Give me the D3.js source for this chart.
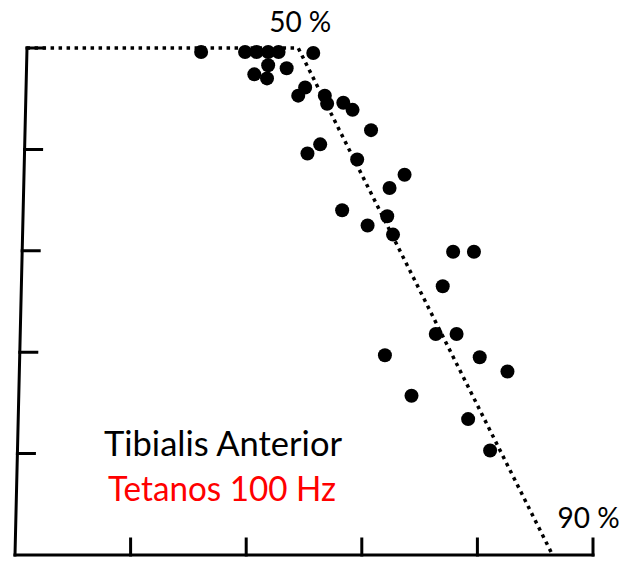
<!DOCTYPE html>
<html>
<head>
<meta charset="utf-8">
<script src="https://cdn.jsdelivr.net/npm/d3@7"></script>
<style>
  body { margin: 0; background: #fff; }
  text { font-family: Lato, "Open Sans", sans-serif; }
</style>
</head>
<body>
<div id="chart"></div>
<script>
// values, in tick units (both axes 0..5)
var xvals = [1.61, 1.99, 2.09, 2.19, 2.28, 2.19, 2.07, 2.18, 2.35, 2.58,
             2.45, 2.51, 2.68, 2.70, 2.84, 2.92, 3.08, 2.53, 2.64, 2.96,
             3.37, 3.24, 2.83, 3.22, 3.05, 3.27, 3.79, 3.97, 3.70, 3.64,
             3.82, 3.20, 4.02, 4.26, 3.43, 3.92, 4.11];
var yvals = [4.96, 4.96, 4.96, 4.96, 4.96, 4.83, 4.74, 4.70, 4.80, 4.95,
             4.53, 4.61, 4.53, 4.45, 4.46, 4.39, 4.19, 3.96, 4.05, 3.90,
             3.75, 3.62, 3.40, 3.34, 3.25, 3.16, 2.99, 2.99, 2.65, 2.18,
             2.18, 1.97, 1.95, 1.81, 1.57, 1.34, 1.03];

// dotted guide: plateau then linear decline
var guideX = [0.1, 2.45, 4.65];
var guideY = [5, 5, 0];
var guideText = ["50 %", "90 %"];

var xticks = [1, 2, 3, 4, 5];
var yticks = [1, 2, 3, 4, 5];

var title = "Tibialis Anterior";
var subtitle = "Tetanos 100 Hz";

var margin = {top: 48, right: 34, bottom: 8, left: 15},
    width = 627 - margin.left - margin.right,
    height = 563 - margin.top - margin.bottom;

var svg = d3.select("#chart").append("svg")
    .attr("width", 627)
    .attr("height", 563)
  .append("g")
    .attr("transform", "translate(" + margin.left + "," + margin.top + ")");

var x = d3.scaleLinear().domain([0, 5]).range([0, width]);
var y = d3.scaleLinear().domain([0, 5]).range([height, 0]);

// the scanned y axis leans a little to the right at the top
var lean = -12 / 507;
var skew = Math.atan(lean) * 180 / Math.PI;

var yAxis = svg.append("g")
    .attr("class", "y axis")
    .attr("transform", "translate(" + (-lean * height) + ",0) skewX(" + skew + ")")
    .call(d3.axisLeft(y).tickValues(yticks).tickSizeInner(-17).tickSizeOuter(0)
        .tickFormat("").offset(0));

var xAxis = svg.append("g")
    .attr("class", "x axis")
    .attr("transform", "translate(0," + height + ")")
    .call(d3.axisBottom(x).tickValues(xticks).tickSizeInner(-16).tickSizeOuter(0)
        .tickFormat("").offset(0));

svg.selectAll(".axis path, .axis line")
    .attr("stroke", "#000")
    .attr("stroke-width", 3)
    .attr("stroke-linecap", "square");

// dotted guide
var guide = guideX.map(function(d, i) { return {x: d, y: guideY[i]}; });

svg.append("path")
    .datum(guide)
    .attr("fill", "none")
    .attr("stroke", "#000")
    .attr("stroke-width", 3.5)
    .attr("stroke-dasharray", "3.5,4.5")
    .attr("d", d3.line()
        .x(function(d) { return x(d.x); })
        .y(function(d) { return y(d.y); }));

svg.append("text")
    .attr("x", x(guideX[1]) + 2)
    .attr("y", y(guideY[1]) - 16)
    .attr("text-anchor", "middle")
    .attr("font-size", 28)
    .text(guideText[0]);

svg.append("text")
    .attr("x", x(guideX[2]) + 5)
    .attr("y", y(guideY[2]) - 27)
    .attr("font-size", 28)
    .text(guideText[1]);

// points
svg.selectAll(".dot")
    .data(xvals.map(function(d, i) { return {x: d, y: yvals[i]}; }))
  .enter().append("circle")
    .attr("class", "dot")
    .attr("cx", function(d) { return x(d.x); })
    .attr("cy", function(d) { return y(d.y); })
    .attr("r", 7)
    .attr("fill", "#000");

// labels
svg.append("text")
    .attr("x", 89)
    .attr("y", 408)
    .attr("font-size", 34)
    .attr("textLength", 238)
    .attr("lengthAdjust", "spacingAndGlyphs")
    .attr("fill", "#000")
    .text(title);

svg.append("text")
    .attr("x", 93)
    .attr("y", 453)
    .attr("font-size", 34)
    .attr("textLength", 228)
    .attr("lengthAdjust", "spacingAndGlyphs")
    .attr("fill", "#ff0000")
    .text(subtitle);
</script>
</body>
</html>
